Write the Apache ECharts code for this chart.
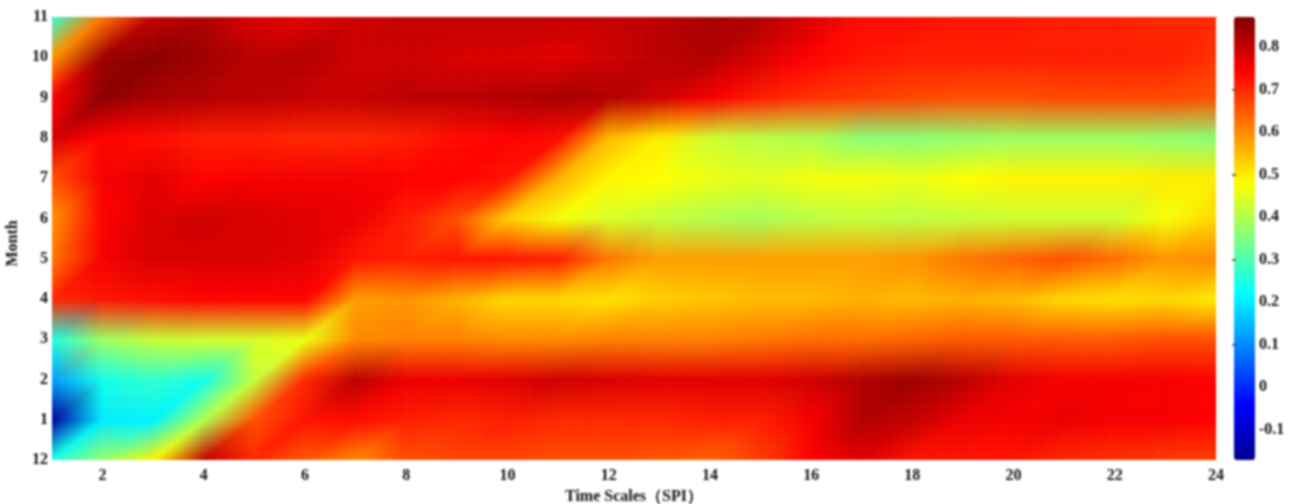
<!DOCTYPE html>
<html><head><meta charset="utf-8">
<style>html,body{margin:0;padding:0;background:#fff}#c{width:1296px;height:504px;filter:blur(0.8px)}</style>
<script src="https://cdn.jsdelivr.net/npm/echarts@6/dist/echarts.min.js"></script>
</head><body><div id="c"></div>
<script>
const timeScales = ['1','2','3','4','5','6','7','8','9','10','11','12','13','14','15','16','17','18','19','20','21','22','23','24'];
const months = ['12','1','2','3','4','5','6','7','8','9','10','11'];
const colorTicks = [-0.1,0,0.1,0.2,0.3,0.4,0.5,0.6,0.7,0.8];
const colorMarks = [0.1,0.3,0.5,0.7];
const jet = ['#00008f','#0000ff','#0080ff','#00ffff','#80ff80','#ffff00','#ff8000','#ff0000','#800000'];
const m12 = [.25,.38,.49,.80,.70,.65,.60,.66,.67,.67,.66,.66,.65,.64,.68,.74,.77,.72,.72,.72,.70,.69,.68,.68];
const m1  = [-.15,.20,.21,.40,.66,.72,.73,.71,.70,.71,.70,.70,.70,.71,.71,.75,.82,.80,.76,.75,.76,.75,.75,.74];
const m2  = [.12,.24,.27,.24,.42,.70,.81,.76,.76,.77,.79,.78,.77,.77,.77,.79,.82,.84,.81,.77,.75,.75,.75,.74];
const m3  = [.25,.38,.42,.43,.44,.46,.60,.61,.61,.60,.60,.61,.61,.61,.62,.63,.63,.64,.65,.65,.65,.65,.66,.66];
const m4  = [.70,.72,.73,.74,.74,.74,.58,.59,.56,.52,.52,.51,.53,.54,.55,.55,.56,.55,.56,.55,.52,.51,.52,.50];
const m5  = [.62,.75,.78,.78,.78,.77,.72,.71,.72,.72,.71,.62,.58,.58,.58,.58,.58,.59,.62,.64,.66,.63,.59,.60];
const m6  = [.59,.74,.78,.79,.78,.77,.76,.71,.66,.53,.47,.44,.42,.40,.39,.41,.42,.41,.42,.43,.43,.43,.47,.52];
const m7  = [.66,.75,.77,.74,.75,.75,.75,.74,.74,.72,.56,.49,.48,.46,.45,.47,.47,.46,.48,.49,.49,.49,.50,.50];
const m8  = [.78,.74,.73,.71,.71,.70,.70,.71,.73,.74,.73,.55,.50,.43,.41,.40,.36,.36,.37,.38,.38,.38,.37,.36];
const m9  = [.74,.86,.83,.82,.81,.80,.80,.81,.81,.82,.83,.82,.79,.75,.71,.69,.68,.67,.66,.66,.67,.67,.67,.66];
const m10 = [.59,.84,.86,.84,.81,.82,.79,.79,.78,.78,.77,.79,.81,.82,.78,.74,.72,.71,.71,.71,.71,.71,.71,.69];
const m11 = [.27,.62,.80,.82,.78,.77,.79,.80,.80,.80,.80,.80,.81,.83,.82,.78,.73,.73,.72,.72,.71,.71,.70,.70];
const grid = [m12,m1,m2,m3,m4,m5,m6,m7,m8,m9,m10,m11];
const vMin = -0.171, vMax = 0.871;

const nodes = [];
grid.forEach((row,j)=>row.forEach((v,i)=>nodes.push([i,j,v])));
const rgbOf = v => echarts.color.parse(echarts.color.lerp(Math.min(1,Math.max(0,(v-vMin)/(vMax-vMin))), jet));
const cornerRgb = grid.map(row=>row.map(rgbOf));
const NU = 14, NV = 11;

function renderCell(params, api){
  const i = api.value(0), j = api.value(1);
  if (i >= timeScales.length-1 || j >= months.length-1) return null;
  const a = cornerRgb[j][i], b = cornerRgb[j][i+1], c = cornerRgb[j+1][i+1], d = cornerRgb[j+1][i];
  const p0 = api.coord([i,j]), p1 = api.coord([i+1,j+1]);
  const w = (p1[0]-p0[0])/NU, h = (p1[1]-p0[1])/NV; // h negative: rows go upward
  const children = [];
  for (let s=0;s<NU;s++) for (let t=0;t<NV;t++){
    const u=(s+.5)/NU, v=(t+.5)/NV;
    const rgb=[0,1,2].map(k=> Math.round(u>=v ? a[k]+u*(b[k]-a[k])+v*(c[k]-b[k]) : a[k]+v*(d[k]-a[k])+u*(c[k]-d[k])));
    const x = p0[0]+s*w, y = p0[1]+(t+1)*h;
    children.push({type:'rect',shape:{
        x:x, y:y,
        width: w+(s<NU-1||i<timeScales.length-2?0.6:0),
        height: -h+(t>0||j>0?0.6:0)},
      style:{fill:'rgb('+rgb.join(',')+')'},silent:true});
  }
  return {type:'group',children};
}
const font = {fontFamily:'"Liberation Serif",serif',fontWeight:'bold',fontSize:16,color:'#111'};
const markTick = {show:true,inside:true,length:2,customValues:colorMarks,lineStyle:{color:'#333',width:2,opacity:.7}};
const chart = echarts.init(document.getElementById('c'),null,{renderer:'canvas'});
chart.setOption({
  animation:false,
  backgroundColor:'#fff',
  grid:[{left:52,top:17,width:1164,height:443,outerBoundsMode:'none'},{left:1234,top:17,width:21,height:443,outerBoundsMode:'none'}],
  xAxis:[
    {type:'category',data:timeScales,boundaryGap:false,gridIndex:0,
     axisLine:{show:false},axisTick:{show:false},splitLine:{show:false},
     axisLabel:Object.assign({interval:(idx)=>idx%2===1,margin:8,hideOverlap:false},font),
     name:'Time Scales（SPI）',nameLocation:'middle',nameGap:26,
     nameTextStyle:font},
    {type:'category',data:timeScales,boundaryGap:false,gridIndex:0,position:'top',
     axisLine:{show:true,lineStyle:{color:'#333',width:1}},axisTick:{show:false},axisLabel:{show:false},splitLine:{show:false}},
    {type:'value',gridIndex:1,min:0,max:1,show:false}
  ],
  yAxis:[
    {type:'category',data:months,boundaryGap:false,gridIndex:0,
     axisLine:{show:false},axisTick:{show:false},splitLine:{show:false},
     axisLabel:Object.assign({interval:0,margin:4,hideOverlap:false,padding:[4,0,0,0]},font),
     name:'Month',nameLocation:'middle',nameGap:30,nameTextStyle:Object.assign({padding:[0,10,0,0]},font)},
    {type:'value',gridIndex:1,position:'right',min:vMin,max:vMax,z:10,
     axisLine:{show:false},axisTick:markTick,splitLine:{show:false},
     axisLabel:Object.assign({customValues:colorTicks,margin:4,padding:[1,0,0,0],formatter:v=>String(Math.round(v*10)/10)},font)},
    {type:'value',gridIndex:1,position:'left',min:vMin,max:vMax,z:10,
     axisLine:{show:false},axisTick:markTick,splitLine:{show:false},axisLabel:{show:false}}
  ],
  visualMap:{type:'continuous',seriesIndex:0,dimension:2,min:vMin,max:vMax,
    calculable:false,show:true,left:1234,top:17,itemWidth:21,itemHeight:443,padding:0,borderRadius:0,
    text:null,showLabel:false,inRange:{color:jet}},
  series:[
    {type:'custom',xAxisIndex:0,yAxisIndex:0,data:nodes,renderItem:renderCell,
     encode:{x:0,y:1},silent:true,progressive:0,clip:false,z:2},
    {type:'line',xAxisIndex:2,yAxisIndex:1,data:[],silent:true},
    {type:'line',xAxisIndex:2,yAxisIndex:2,data:[],silent:true}
  ]
});
</script></body></html>
